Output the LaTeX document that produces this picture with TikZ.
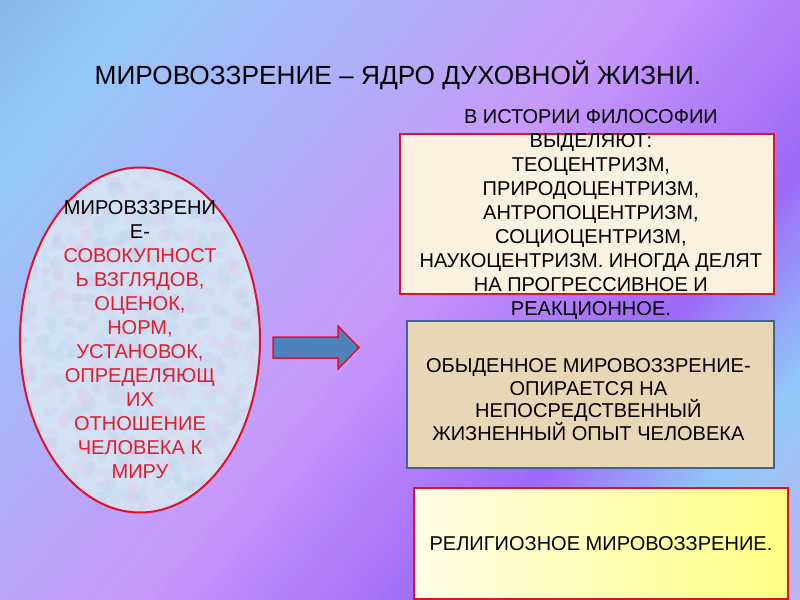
\documentclass[tikz,border=0pt]{standalone}
\usepackage{fontspec}
\setmainfont{Liberation Sans}
\usepackage{tikz}
\usetikzlibrary{calc,shapes.geometric}
\definecolor{cBgA}  {HTML}{88B4E6}
\definecolor{cBgB}  {HTML}{95C8FA}
\definecolor{cBgC}  {HTML}{C898FA}
\definecolor{cBgD}  {HTML}{9E68F8}
\definecolor{cBgE}  {HTML}{90C8F8}
\definecolor{cBgF}  {HTML}{C8B0F0}
\definecolor{cRed}  {RGB}{228,16,40}
\definecolor{cTxtR} {RGB}{226,28,44}
\definecolor{cOval} {HTML}{D2E2F4}
\definecolor{cSpkA} {HTML}{E4CCEE}
\definecolor{cSpkB} {HTML}{BCD4F0}
\definecolor{cSteel}{HTML}{4F81BD}
\definecolor{cCream}{HTML}{FBF1DF}
\definecolor{cParch}{HTML}{E8D7B6}
\definecolor{cSlate}{HTML}{3F6496}
\definecolor{cLemA} {HTML}{FFFDE6}
\definecolor{cLemB} {HTML}{FFFF84}
\tikzset{
  txt/.style={font=\fontsize{17.1}{20.5}\selectfont,align=center,inner sep=0pt},
  ttl/.style={font=\fontsize{22.4}{26}\selectfont,inner sep=0pt},
  oval/.style={draw=cRed,line width=0.6mm,ellipse,inner sep=0pt,
               minimum width=240*0.3mm,minimum height=345*0.3mm},
  box/.style={draw=cRed,line width=0.55mm,anchor=north west,inner sep=0pt},
  histbox/.style={box,fill=cCream,minimum width=374*0.3mm,minimum height=160*0.3mm},
  dailybox/.style={box,draw=cSlate,fill=cParch,minimum width=367*0.3mm,minimum height=147*0.3mm},
  relbox/.style={box,left color=cLemA,right color=cLemB,minimum width=374*0.3mm,minimum height=111*0.3mm},
  arw/.style={fill=cSteel,draw=cRed,line width=0.45mm,line join=miter},
}
\begin{document}
\begin{tikzpicture}[x=0.3mm,y=-0.3mm]
  \useasboundingbox (0,0) rectangle (800,600);
  % diagonal background bands
  \newcommand{\bgband}[4]{%
    \foreach \j in {0,...,19}{
      \pgfmathsetmacro\pa{#1+\j*(#2-#1)/20}
      \pgfmathsetmacro\pb{#1+(\j+1.4)*(#2-#1)/20}
      \pgfmathsetmacro\pct{100*(\j+0.5)/20}
      \fill[#4!\pct!#3] ({\pa*0.768+768},{\pa*0.64-921.6}) -- ({\pb*0.768+768},{\pb*0.64-921.6})
        -- ({\pb*0.768-768},{\pb*0.64+921.6}) -- ({\pa*0.768-768},{\pa*0.64+921.6}) -- cycle;
    }}
  \begin{scope}
    \clip (0,0) rectangle (800,600);
    \bgband{-20}{115}{cBgA}{cBgB}
    \bgband{115}{490}{cBgB}{cBgC}
    \bgband{490}{720}{cBgC}{cBgD}
    \bgband{720}{858}{cBgD}{cBgE}
    \bgband{858}{1020}{cBgE}{cBgF}
  \end{scope}

  \node[ttl] (title) at (398,75) {МИРОВОЗЗРЕНИЕ – ЯДРО ДУХОВНОЙ ЖИЗНИ.};

  % left: definition in the oval (speckled fill)
  \begin{scope}
    \clip (140,340) ellipse [x radius=120, y radius=172.5];
    \fill[cOval] (20,165) rectangle (260,515);
    \pgfmathsetseed{11}
    \foreach \i in {1,...,900}{
      \pgfmathsetmacro\sx{140+122*rand}
      \pgfmathsetmacro\sy{340+175*rand}
      \pgfmathsetmacro\sr{3+4*rnd}
      \ifodd\i \fill[cSpkA,opacity=0.3] (\sx,\sy) circle[radius=\sr];
      \else \fill[cSpkB,opacity=0.3] (\sx,\sy) circle[radius=\sr]; \fi
    }
  \end{scope}
  \node[oval] (wv) at (140,340) {};
  \node[txt] (wvtxt) at (wv.center) {МИРОВЗЗРЕНИ\\Е-\\\color{cTxtR}СОВОКУПНОСТ\\
    \color{cTxtR}Ь ВЗГЛЯДОВ,\\\color{cTxtR}ОЦЕНОК,\\\color{cTxtR}НОРМ,\\
    \color{cTxtR}УСТАНОВОК,\\\color{cTxtR}ОПРЕДЕЛЯЮЩ\\\color{cTxtR}ИХ\\
    \color{cTxtR}ОТНОШЕНИЕ\\\color{cTxtR}ЧЕЛОВЕКА К\\\color{cTxtR}МИРУ};

  % block arrow
  \draw[arw] (273,337) -- (338,337) -- (338,326) -- (359,347.5) -- (338,369)
    -- (338,358) -- (273,358) -- cycle;

  % right: three boxes
  \node[histbox] (hist) at (399,133) {};
  \node[txt] (histtxt) at ($(hist.center)+(4,0.5)$) {В ИСТОРИИ ФИЛОСОФИИ\\ВЫДЕЛЯЮТ:\\ТЕОЦЕНТРИЗМ,\\
    ПРИРОДОЦЕНТРИЗМ,\\АНТРОПОЦЕНТРИЗМ,\\СОЦИОЦЕНТРИЗМ,\\
    НАУКОЦЕНТРИЗМ. ИНОГДА ДЕЛЯТ\\НА ПРОГРЕССИВНОЕ И\\РЕАКЦИОННОЕ.};

  \node[dailybox] (daily) at (406,320) {};
  \node[txt,font=\fontsize{17.1}{19.2}\selectfont] (dailytxt) at ($(daily.center)+(-2,5)$)
    {ОБЫДЕННОЕ МИРОВОЗЗРЕНИЕ-\\ОПИРАЕТСЯ НА\\НЕПОСРЕДСТВЕННЫЙ\\ЖИЗНЕННЫЙ ОПЫТ ЧЕЛОВЕКА};

  \node[relbox] (rel) at (413,487) {};
  \node[txt] (reltxt) at (rel.center) {РЕЛИГИОЗНОЕ МИРОВОЗЗРЕНИЕ.};
\end{tikzpicture}
\end{document}
